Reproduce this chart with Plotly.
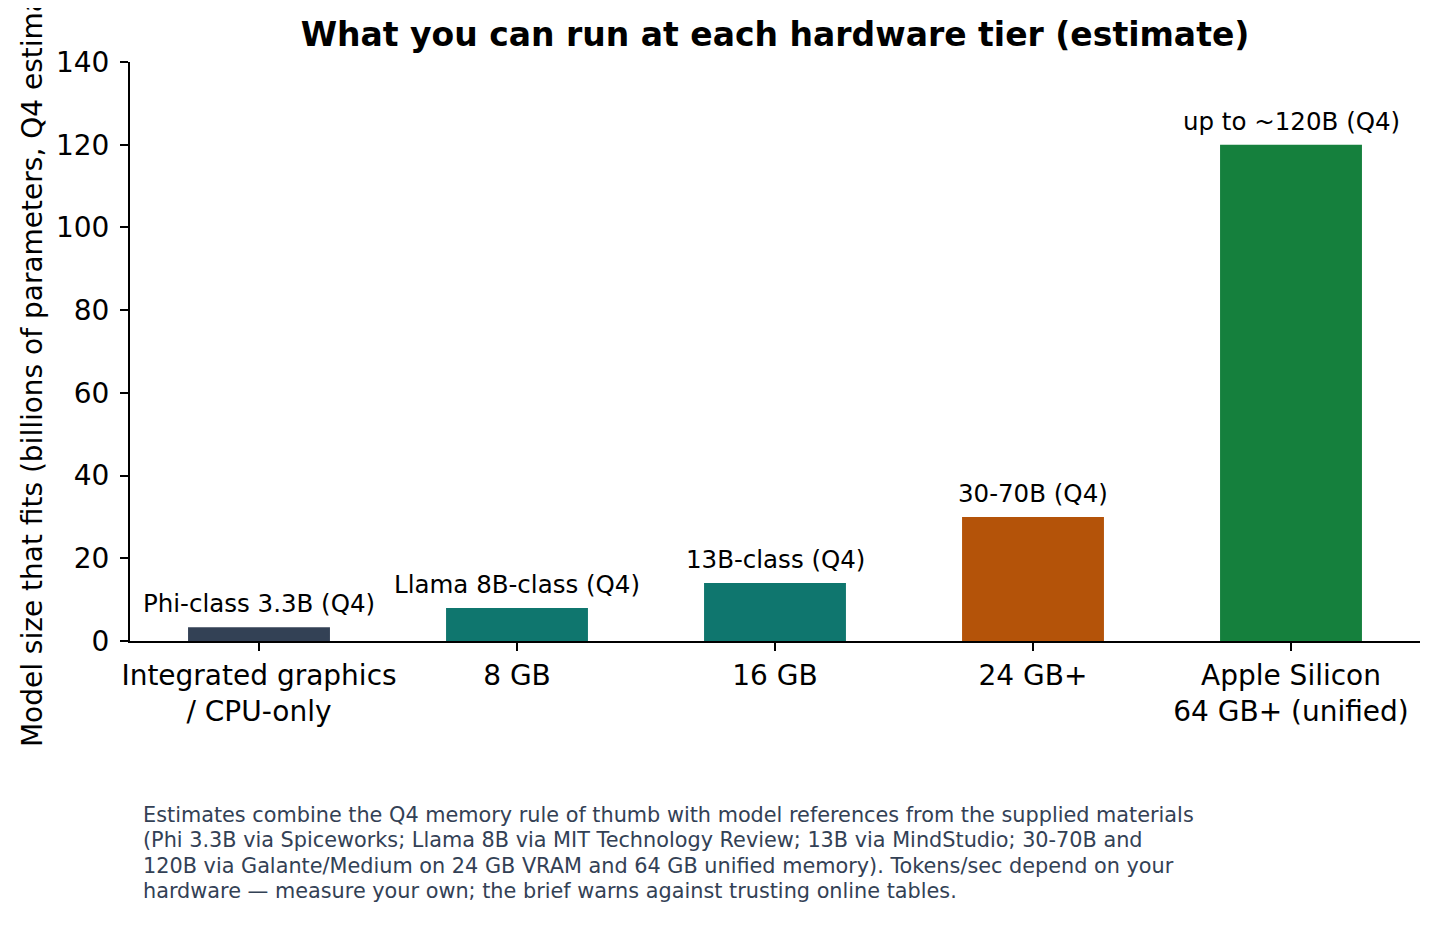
import plotly.graph_objects as go

tiers = ["Integrated graphics<br>/ CPU-only", "8 GB", "16 GB", "24 GB+",
         "Apple Silicon<br>64 GB+ (unified)"]
model_size_b = [3.3, 8, 14, 30, 120]
bar_labels = ["Phi-class 3.3B (Q4)", "Llama 8B-class (Q4)", "13B-class (Q4)",
              "30-70B (Q4)", "up to ~120B (Q4)"]
bar_colors = ["#334155", "#0f766e", "#0f766e", "#b45309", "#15803d"]
y_ticks = [0, 20, 40, 60, 80, 100, 120, 140]

footnote_lines = [
    "Estimates combine the Q4 memory rule of thumb with model references from the supplied materials",
    "(Phi 3.3B via Spiceworks; Llama 8B via MIT Technology Review; 13B via MindStudio; 30-70B and",
    "120B via Galante/Medium on 24 GB VRAM and 64 GB unified memory). Tokens/sec depend on your",
    "hardware \u2014 measure your own; the brief warns against trusting online tables.",
]

FONT = "DejaVu Sans"

# page has an 8px body margin, so the figure is a bit smaller than the window
W, H = 1424, 909
ML, MR, MT, MB = 122, 12, 54, 276


def main():
    x_idx = list(range(len(tiers)))
    plot_h = H - MT - MB

    fig = go.Figure()
    fig.add_trace(go.Bar(
        x=x_idx,
        y=model_size_b,
        width=0.55,
        marker=dict(color=bar_colors, line=dict(width=0)),
        showlegend=False,
    ))

    # value labels above each bar
    for xi, val, lab in zip(x_idx, model_size_b, bar_labels):
        fig.add_annotation(
            x=xi, y=val, xref="x", yref="y",
            text=lab, showarrow=False,
            yanchor="bottom", yshift=7,
            font=dict(family=FONT, size=24.5, color="#000000"),
        )

    # footnote under the chart, one line per annotation for tighter spacing
    for i, line in enumerate(footnote_lines):
        y_px = 807 + 25.3 * i          # line centre, px from figure top
        fig.add_annotation(
            x=0.0085, y=-(y_px - (H - MB)) / plot_h,
            xref="paper", yref="paper",
            xanchor="left", yanchor="middle", align="left",
            text=line, showarrow=False,
            font=dict(family=FONT, size=20.8, color="#334155"),
        )

    fig.update_layout(
        width=W, height=H,
        paper_bgcolor="white", plot_bgcolor="white",
        margin=dict(l=ML, r=MR, t=MT, b=MB),
        font=dict(family=FONT, size=28, color="#000000"),
        title=dict(
            text="<b>What you can run at each hardware tier (estimate)</b>",
            x=0.5, xref="paper", xanchor="center",
            y=0.971, yref="container", yanchor="middle",
            font=dict(family=FONT, size=33, color="#000000"),
        ),
        xaxis=dict(
            range=[-0.5, 4.5],
            tickmode="array", tickvals=x_idx, ticktext=tiers,
            showgrid=False, zeroline=False,
            showline=True, linecolor="#000000", linewidth=2,
            ticks="outside", ticklen=8, tickwidth=1.5, tickcolor="#000000",
            tickfont=dict(family=FONT, size=28),
        ),
        yaxis=dict(
            range=[0, 140],
            tickmode="array", tickvals=y_ticks,
            showgrid=False, zeroline=False,
            showline=True, linecolor="#000000", linewidth=2,
            ticks="outside", ticklen=8, tickwidth=1.5, tickcolor="#000000",
            tickfont=dict(family=FONT, size=28), ticklabelstandoff=5,
            title=dict(text="Model size that fits (billions of parameters, Q4 estimate)",
                       font=dict(family=FONT, size=28), standoff=5),
        ),
    )

    fig.write_html("out.html")


if __name__ == "__main__":
    main()
